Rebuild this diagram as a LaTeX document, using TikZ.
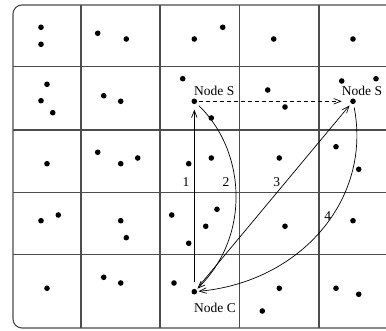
\documentclass[tikz,border=0pt]{standalone}
\usepackage{fontspec}
\setmainfont{Liberation Serif}
\usetikzlibrary{arrows.meta}
\begin{document}
\begin{tikzpicture}[x=1pt,y=-1pt,
  gridline/.style={draw=black!70, line width=1.1pt},
  dot/.style={circle, fill=black, inner sep=0pt, minimum size=5.6pt, outer sep=1.5pt},
  conn/.style={line width=0.7pt, -{Straight Barb[length=7pt,width=5.5pt]}},
  lbl/.style={font=\fontsize{13.5}{16}\selectfont, inner sep=0pt, anchor=base west},
  num/.style={font=\fontsize{13.5}{16}\selectfont, inner sep=0pt, anchor=base}]
\useasboundingbox (0,0) rectangle (386,331);
\clip (0,0) rectangle (386,331);
% frame
\draw[gridline, rounded corners=9pt] (13,5) rectangle (420,328);
% grid
\foreach \x in {81,160,239.5,319} \draw[gridline] (\x,5) -- (\x,328);
\foreach \y in {66.7,130,192.3,254.3} \draw[gridline] (13,\y) -- (420,\y);
% plain dots
\foreach \p in {(41,27.3),(41,44.3),(97.7,33.3),(126.3,39),(194.3,39),(222.7,27.3),(273.7,39),(353,39),
  (47,84.3),(41,100.7),(52.7,112.7),(103.7,95.7),(120.7,101.3),(182.7,78.7),(211.3,118),(267.7,90),(285,107),(341.7,81),(376,78.7),
  (47,163.7),(97.7,152.3),(120.7,163.7),(137.7,158),(188.7,163.7),(211.3,158),(279.3,158),(336,146.7),(358.7,169.3),
  (41,220.7),(58.3,215),(120.7,220.7),(126.3,237.7),(171.7,215),(217,209.3),(205.7,226.3),(188.7,243.3),(285,226.3),(353,220.7),
  (47,288.3),(103.7,277.3),(120.7,283),(174,283),(279.3,288.3),(262.3,311),(336,288.3),(358.7,294.3)}
  \fill \p circle (2.8pt);
% named nodes
\node[dot] (S) at (194.3,101.3) {};
\node[dot] (S2) at (353,101.3) {};
\node[dot] (C) at (194.3,291.7) {};
\node[lbl] (lS) at (194,95.5) {Node S};
\node[lbl] (lS2) at (341.7,95.5) {Node S};
\node[lbl] (lC) at (194,312.3) {Node C};
% connectors
\draw[conn, shorten <=5pt, shorten >=4pt] (C) -- (S);
\draw[conn, shorten <=2pt] (S) .. controls (245,150) and (252,235) .. (C);
\draw[conn, shorten <=4pt, shorten >=1pt] (C) -- (S2);
\draw[conn, shorten <=2pt] (S2) .. controls (372,200) and (300,282) .. (C);
\draw[conn, dashed, dash pattern=on 4pt off 3pt, shorten >=7pt] (S) -- (S2);
% numbers
\node[num] (n1) at (186,186.7) {1};
\node[num] (n2) at (226,186.7) {2};
\node[num] (n3) at (276.7,186.7) {3};
\node[num] (n4) at (327.7,220.7) {4};
\end{tikzpicture}
\end{document}
